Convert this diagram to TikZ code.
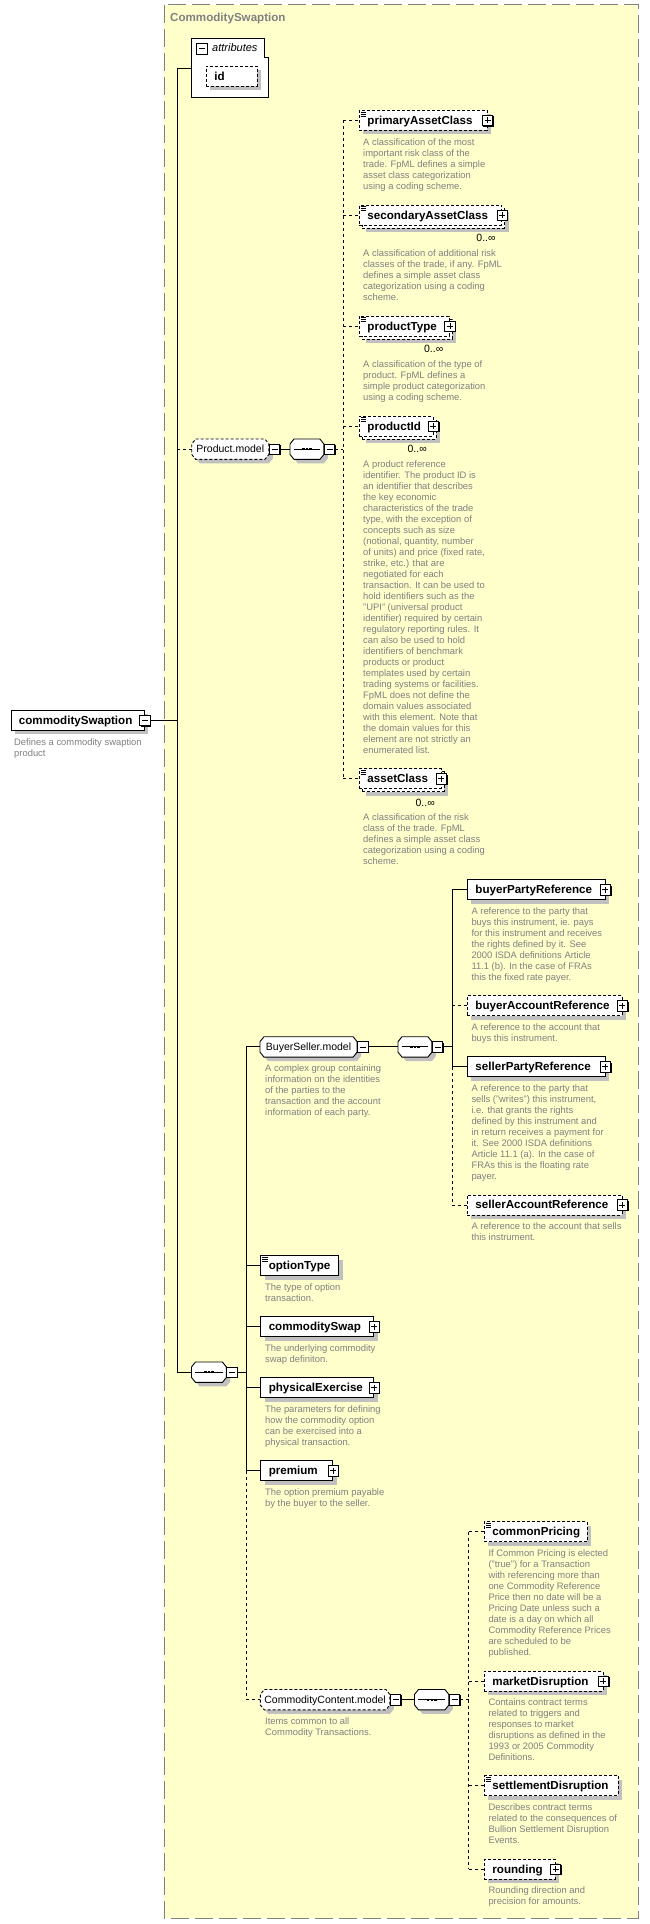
\documentclass[tikz,border=0pt]{standalone}
\usepackage{fontspec}
\setmainfont{Liberation Sans}
\usetikzlibrary{calc,shadows}
\pgfdeclarelayer{back}
\pgfdeclarelayer{bg}
\pgfsetlayers{back,bg,main}
\definecolor{bgyellow}{RGB}{255,255,204}
\definecolor{bordergray}{RGB}{128,128,128}
\definecolor{descgray}{RGB}{128,128,128}
\definecolor{shadowgray}{RGB}{192,192,192}
\newcommand\BX[2]{\makebox[#1pt][l]{#2}}
\newcommand\octo[2]{%
 \begin{pgfonlayer}{bg}
 \fill[shadowgray] ($(#1.north west)+(8,4)$) -- ($(#1.north east)+(0,4)$) -- ($(#1.north east)+(4,9)$) -- ($(#1.south east)+(4,-1)$) -- ($(#1.south east)+(0,4)$) -- ($(#1.south west)+(8,4)$) -- ($(#1.south west)+(4,-1)$) -- ($(#1.north west)+(4,9)$) -- cycle;
 \draw[octline,#2] ($(#1.north west)+(4,0)$) -- ($(#1.north east)+(-4,0)$) -- ($(#1.north east)+(0,5)$) -- ($(#1.south east)+(0,-5)$) -- ($(#1.south east)+(-4,0)$) -- ($(#1.south west)+(4,0)$) -- ($(#1.south west)+(0,-5)$) -- ($(#1.north west)+(0,5)$) -- cycle;
 \end{pgfonlayer}}
\newcommand\seqsym[1]{%
 \draw[line width=0.9pt] ([xshift=3.5pt]#1.west) -- ([xshift=-3.5pt]#1.east);
 \foreach \d in {-3.6,0,3.6}{\fill ($(#1.center)+(\d,0)$) +(-1.2,-1.2) rectangle +(1.2,1.2);}}
\newcommand\icon[1]{%
 \foreach \e in {2,4,6}{\draw[line width=0.7pt] ($(#1.north west)+(1.6,\e)$) -- ++(5.8,0);}}
\tikzset{
 shd/.style={drop shadow={shadow xshift=4pt,shadow yshift=-4pt,fill=shadowgray,opacity=1}},
 elem/.style={draw=black, line width=0.9pt, fill=white, anchor=north west, minimum height=20pt,
   inner xsep=8pt, inner ysep=0pt, text height=8.2pt, text depth=0.2pt,
   font=\fontsize{11.6pt}{13pt}\selectfont\bfseries},
 opt/.style={dash pattern=on 3pt off 2pt},
 octline/.style={draw=black, line width=0.9pt, fill=white},
 octn/.style={rectangle, draw=none, anchor=north west, minimum height=20pt, inner sep=0pt,
   font=\fontsize{10.5pt}{12pt}\selectfont, text height=7.6pt, text depth=0.2pt},
 pmbox/.style={draw=black, fill=white, line width=0.8pt, minimum width=10.5pt, minimum height=10.5pt,
   inner sep=0pt, drop shadow={shadow xshift=1pt,shadow yshift=-1pt,fill=black,opacity=1}},
 minus/.style={pmbox, path picture={\draw[line width=0.8pt] ([xshift=-3pt]path picture bounding box.center) -- ([xshift=3pt]path picture bounding box.center);}},
 plus/.style={pmbox, path picture={\draw[line width=0.8pt] ([xshift=-3pt]path picture bounding box.center) -- ([xshift=3pt]path picture bounding box.center) ([yshift=-3pt]path picture bounding box.center) -- ([yshift=3pt]path picture bounding box.center);}},
 desc/.style={anchor=north west, inner sep=0pt, align=left, text=descgray,
   font=\fontsize{9.4pt}{11pt}\selectfont, execute at begin node={\rule{0pt}{8pt}}},
 mult/.style={anchor=east, inner sep=0pt, font=\fontsize{10.5pt}{12pt}\selectfont, text height=7.6pt, text depth=0.2pt},
 conn/.style={line width=0.9pt},
 optc/.style={line width=0.9pt, dash pattern=on 3pt off 3pt}
}
\begin{document}
\begin{tikzpicture}[x=1pt,y=-1pt]
\useasboundingbox (0,0) rectangle (649,1924);
\begin{pgfonlayer}{back}
\fill[white] (0,0) rectangle (649,1924);
\draw[bordergray, line width=1pt, dash pattern=on 18pt off 6pt, fill=bgyellow] (164,5) rectangle (638,1918);
\end{pgfonlayer}
\node[anchor=west, inner sep=0pt, text=bordergray, font=\fontsize{11.6pt}{13pt}\selectfont\bfseries] (title) at (170,19) {CommoditySwaption};

% attributes
\node[draw=none, anchor=north west, minimum width=77pt, minimum height=59pt, inner sep=0pt] (att) at (191.5,38) {};
\draw[line width=0.9pt, fill=white] (att.north west) -- ([xshift=-4.6pt]att.north east) -- ([xshift=-4.6pt,yshift=-19pt]att.north east) -- ([yshift=-19pt]att.north east) -- (att.south east) -- (att.south west) -- cycle;
\node[minus] (att-m) at (202,48.7) {};
\node[anchor=west, inner sep=0pt, font=\fontsize{11pt}{13pt}\selectfont\itshape] (att-t) at (212,48) {attributes};
\coordinate (att-in) at (191.5,68);
\node[elem, opt, shd] (id) at (206,66) {\BX{35}{id}};

% root
\node[elem, shd] (root) at (10.5,710) {\BX{117.5}{commoditySwaption}};
\node[minus] (root-m) at (root.east) {};
\node[desc] (root-d) at (14,738.7) {Defines a commodity swaption\\product};

% Product.model
\node[octn, minimum width=76.8pt] (pm) at (191.7,439) {Product.model}; \octo{pm}{opt}
\node[minus, anchor=west] (pm-m) at (pm.east) {};
\node[octn, minimum width=33.5pt] (ps) at (290,439) {}; \octo{ps}{} \seqsym{ps}
\node[minus, anchor=west] (ps-m) at (ps.east) {};

\node[elem, opt, shd] (pac) at (359,110) {\BX{111.6}{primaryAssetClass}};
\icon{pac}
\node[plus] (pac-p) at (pac.east) {};
\node[desc] (pac-d) at (363,138.4) {A classification of the most\\important risk class of the\\trade. FpML defines a simple\\asset class categorization\\using a coding scheme.};

\node[elem, opt, shd] (sac-b) at (362,207.7) {\BX{126.3}{}};
\node[elem, opt] (sac) at (359,204.7) {\BX{126.3}{secondaryAssetClass}};
\icon{sac}
\node[plus] (sac-p) at (sac.east) {};
\node[mult] (sac-n) at (495.8,237.7) {0..∞};
\node[desc] (sac-d) at (363,249.4) {A classification of additional risk\\classes of the trade, if any. FpML\\defines a simple asset class\\categorization using a coding\\scheme.};

\node[elem, opt, shd] (pt-b) at (362,318.7) {\BX{74}{}};
\node[elem, opt] (pt) at (359,315.7) {\BX{74}{productType}};
\icon{pt}
\node[plus] (pt-p) at (pt.east) {};
\node[mult] (pt-n) at (443.5,349) {0..∞};
\node[desc] (pt-d) at (363,360.4) {A classification of the type of\\product. FpML defines a\\simple product categorization\\using a coding scheme.};

\node[elem, opt, shd] (pid-b) at (362,418.7) {\BX{57.5}{}};
\node[elem, opt] (pid) at (359,415.7) {\BX{57.5}{productId}};
\icon{pid}
\node[plus] (pid-p) at (pid.east) {};
\node[mult] (pid-n) at (427,449) {0..∞};
\node[desc] (pid-d) at (363,460.4) {A product reference\\identifier. The product ID is\\an identifier that describes\\the key economic\\characteristics of the trade\\type, with the exception of\\concepts such as size\\(notional, quantity, number\\of units) and price (fixed rate,\\strike, etc.) that are\\negotiated for each\\transaction. It can be used to\\hold identifiers such as the\\"UPI" (universal product\\identifier) required by certain\\regulatory reporting rules. It\\can also be used to hold\\identifiers of benchmark\\products or product\\templates used by certain\\trading systems or facilities.\\FpML does not define the\\domain values associated\\with this element. Note that\\the domain values for this\\element are not strictly an\\enumerated list.};

\node[elem, opt, shd] (ac-b) at (362,771.3) {\BX{65.5}{}};
\node[elem, opt] (ac) at (359,768.3) {\BX{65.5}{assetClass}};
\icon{ac}
\node[plus] (ac-p) at (ac.east) {};
\node[mult] (ac-n) at (435,802.7) {0..∞};
\node[desc] (ac-d) at (363,813.4) {A classification of the risk\\class of the trade. FpML\\defines a simple asset class\\categorization using a coding\\scheme.};

% main sequence
\node[octn, minimum width=34.5pt] (ms) at (191.5,1362) {}; \octo{ms}{} \seqsym{ms}
\node[minus, anchor=west] (ms-m) at (ms.east) {};

% BuyerSeller.model
\node[octn, minimum width=96.7pt] (bs) at (260,1036.7) {BuyerSeller.model}; \octo{bs}{}
\node[minus, anchor=west] (bs-m) at (bs.east) {};
\node[desc] (bs-d) at (265,1064.4) {A complex group containing\\information on the identities\\of the parties to the\\transaction and the account\\information of each party.};
\node[octn, minimum width=33.5pt] (bss) at (398,1036.7) {}; \octo{bss}{} \seqsym{bss}
\node[minus, anchor=west] (bss-m) at (bss.east) {};

\node[elem, shd] (bpr) at (467,879.3) {\BX{121.5}{buyerPartyReference}};
\node[plus] (bpr-p) at (bpr.east) {};
\node[desc] (bpr-d) at (471.3,907.4) {A reference to the party that\\buys this instrument, ie. pays\\for this instrument and receives\\the rights defined by it. See\\2000 ISDA definitions Article\\11.1 (b). In the case of FRAs\\this the fixed rate payer.};

\node[elem, opt, shd] (bar) at (467,995.3) {\BX{138.5}{buyerAccountReference}};
\node[plus] (bar-p) at (bar.east) {};
\node[desc] (bar-d) at (471.3,1023.4) {A reference to the account that\\buys this instrument.};

\node[elem, shd] (spr) at (467,1056.3) {\BX{121.5}{sellerPartyReference}};
\node[plus] (spr-p) at (spr.east) {};
\node[desc] (spr-d) at (471.3,1084.4) {A reference to the party that\\sells ("writes") this instrument,\\i.e. that grants the rights\\defined by this instrument and\\in return receives a payment for\\it. See 2000 ISDA definitions\\Article 11.1 (a). In the case of\\FRAs this is the floating rate\\payer.};

\node[elem, opt, shd] (sar) at (467,1194.5) {\BX{138.5}{sellerAccountReference}};
\node[plus] (sar-p) at (sar.east) {};
\node[desc] (sar-d) at (471.3,1222.7) {A reference to the account that sells\\this instrument.};

% other children
\node[elem, shd] (ot) at (260.3,1255.3) {\BX{61.9}{optionType}};
\icon{ot}
\node[desc] (ot-d) at (265,1283.4) {The type of option\\transaction.};

\node[elem, shd] (cs) at (260.3,1316.3) {\BX{97}{commoditySwap}};
\node[plus] (cs-p) at (cs.east) {};
\node[desc] (cs-d) at (265,1344.4) {The underlying commodity\\swap definiton.};

\node[elem, shd] (pe) at (260.3,1377.3) {\BX{97}{physicalExercise}};
\node[plus] (pe-p) at (pe.east) {};
\node[desc] (pe-d) at (265,1405.4) {The parameters for defining\\how the commodity option\\can be exercised into a\\physical transaction.};

\node[elem, shd] (pr) at (260.3,1460.3) {\BX{56}{premium}};
\node[plus] (pr-p) at (pr.east) {};
\node[desc] (pr-d) at (265,1488.4) {The option premium payable\\by the buyer to the seller.};

% CommodityContent.model
\node[octn, minimum width=129.2pt] (cc) at (260.3,1689.5) {CommodityContent.model}; \octo{cc}{opt}
\node[minus, anchor=west] (cc-m) at (cc.east) {};
\node[desc] (cc-d) at (265,1717.7) {Items common to all\\Commodity Transactions.};
\node[octn, minimum width=34pt] (ccs) at (414.5,1689.5) {}; \octo{ccs}{} \seqsym{ccs}
\node[minus, anchor=west] (ccs-m) at (ccs.east) {};

\node[elem, opt, shd] (cp) at (484,1521.3) {\BX{87}{commonPricing}};
\icon{cp}
\node[desc] (cp-d) at (488.3,1549.4) {If Common Pricing is elected\\("true") for a Transaction\\with referencing more than\\one Commodity Reference\\Price then no date will be a\\Pricing Date unless such a\\date is a day on which all\\Commodity Reference Prices\\are scheduled to be\\published.};

\node[elem, opt, shd] (md) at (484,1670.7) {\BX{102.5}{marketDisruption}};
\node[plus] (md-p) at (md.east) {};
\node[desc] (md-d) at (488.3,1698.4) {Contains contract terms\\related to triggers and\\responses to market\\disruptions as defined in the\\1993 or 2005 Commodity\\Definitions.};

\node[elem, opt, shd] (sd) at (484,1775.3) {\BX{117.6}{settlementDisruption}};
\icon{sd}
\node[desc] (sd-d) at (488.3,1803.4) {Describes contract terms\\related to the consequences of\\Bullion Settlement Disruption\\Events.};

\node[elem, opt, shd] (rd) at (484,1858.7) {\BX{54.7}{rounding}};
\node[plus] (rd-p) at (rd.east) {};
\node[desc] (rd-d) at (488.3,1886.7) {Rounding direction and\\precision for amounts.};

% connectors
\coordinate (V0) at (177,0);
\coordinate (V1) at (343,0);
\coordinate (V2) at (246,0);
\coordinate (V3) at (452,0);
\coordinate (V4) at (468.5,0);
\draw[conn] (root-m.east) -- (root-m.east -| V0);
\draw[conn] (V0 |- att-in) -- (V0 |- ms.west);
\draw[conn] (V0 |- att-in) -- (att-in);
\draw[optc] (V0 |- pm.west) -- (pm.west);
\draw[conn] (V0 |- ms.west) -- (ms.west);

\draw[conn] (pm-m.east) -- (ps.west);
\draw[optc] (ps-m.east) -- (ps-m.east -| V1);
\draw[optc] (V1 |- pac.west) -- (V1 |- ac.west);
\foreach \n in {pac,sac,pt,pid,ac} {\draw[optc] (V1 |- \n.west) -- (\n.west);}

\draw[conn] (ms-m.east) -- (ms-m.east -| V2);
\draw[conn] (V2 |- bs.west) -- (V2 |- pr.west);
\draw[optc] (V2 |- pr.west) -- (V2 |- cc.west);
\foreach \n in {bs,ot,cs,pe,pr} {\draw[conn] (V2 |- \n.west) -- (\n.west);}
\draw[optc] (V2 |- cc.west) -- (cc.west);

\draw[conn] (bs-m.east) -- (bss.west);
\draw[conn] (bss-m.east) -- (bss-m.east -| V3);
\draw[conn] (V3 |- bpr.west) -- (V3 |- spr.west);
\draw[optc] (V3 |- spr.west) -- (V3 |- sar.west);
\draw[conn] (V3 |- bpr.west) -- (bpr.west);
\draw[optc] (V3 |- bar.west) -- (bar.west);
\draw[conn] (V3 |- spr.west) -- (spr.west);
\draw[optc] (V3 |- sar.west) -- (sar.west);

\draw[conn] (cc-m.east) -- (ccs.west);
\draw[optc] (ccs-m.east) -- (ccs-m.east -| V4);
\draw[optc] (V4 |- cp.west) -- (V4 |- rd.west);
\foreach \n in {cp,md,sd,rd} {\draw[optc] (V4 |- \n.west) -- (\n.west);}
\end{tikzpicture}
\end{document}
